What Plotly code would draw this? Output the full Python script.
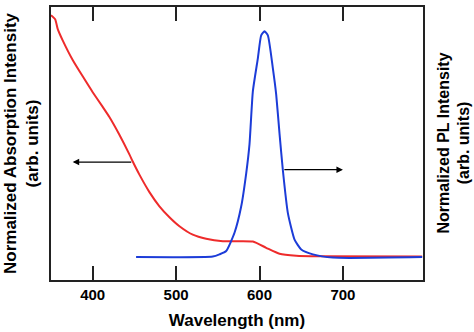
import plotly.graph_objects as go

# Absorption (red), left axis
abs_wl = [350, 355, 358, 364, 376, 388, 400, 412, 420, 432, 444, 448, 456, 468, 480, 492, 504, 520, 536, 556, 592, 608, 624, 644, 672, 795]
abs_val = [0.970, 0.955, 0.920, 0.878, 0.806, 0.746, 0.688, 0.634, 0.597, 0.532, 0.460, 0.434, 0.386, 0.322, 0.270, 0.230, 0.197, 0.166, 0.151, 0.142, 0.141, 0.118, 0.096, 0.089, 0.087, 0.086]

# Photoluminescence (blue), right axis
pl_wl = [452, 544, 552, 560, 570, 578, 584, 588, 592, 598, 602, 606, 610, 616, 620, 624, 628, 634, 642, 650, 664, 688, 795]
pl_val = [0.084, 0.086, 0.094, 0.106, 0.173, 0.269, 0.390, 0.498, 0.691, 0.812, 0.896, 0.911, 0.896, 0.775, 0.679, 0.535, 0.402, 0.245, 0.148, 0.112, 0.094, 0.082, 0.084]

x_ticks = [400, 500, 600, 700]

FONT = "Liberation Sans, Arial, sans-serif"

fig = go.Figure()
fig.add_trace(go.Scatter(x=abs_wl, y=abs_val, mode="lines",
                         line=dict(color="#ee2b2b", width=2, shape="spline", smoothing=0.5),
                         yaxis="y", showlegend=False))
fig.add_trace(go.Scatter(x=pl_wl, y=pl_val, mode="lines",
                         line=dict(color="#1c3cd8", width=2, shape="spline", smoothing=0.5),
                         yaxis="y2", showlegend=False))

arrow = dict(showarrow=True, arrowhead=2, arrowsize=1, arrowwidth=1.3, arrowcolor="black",
             axref="x", ayref="y", xref="x", yref="y", text="")
fig.add_annotation(x=376, y=0.432, ax=448, ay=0.432, **arrow)
fig.add_annotation(x=700, y=0.404, ax=628, ay=0.404, **arrow)

fig.add_annotation(text="Normalized Absorption Intensity<br>(arb. units)",
                   xref="paper", yref="paper", x=0, y=0.5, xanchor="right", yanchor="middle",
                   xshift=-7, textangle=-90, showarrow=False,
                   font=dict(family=FONT, size=17, color="black", weight="bold"))
fig.add_annotation(text="Normalized PL Intensity<br>(arb. units)",
                   xref="paper", yref="paper", x=1, y=0.5, xanchor="left", yanchor="middle",
                   xshift=9, textangle=-90, showarrow=False,
                   font=dict(family=FONT, size=16, color="black", weight="bold"))

fig.update_layout(
    width=474, height=332,
    margin=dict(l=51, r=51, t=5, b=51),
    paper_bgcolor="white", plot_bgcolor="white",
    font=dict(family=FONT, color="black"),
    xaxis=dict(range=[350, 796], tickvals=x_ticks, ticktext=[str(v) for v in x_ticks],
               ticks="inside", ticklen=14, tickwidth=1.5, tickcolor="#222",
               showline=True, linecolor="#222", linewidth=1.5, mirror="ticks",
               showgrid=False, zeroline=False,
               tickfont=dict(family=FONT, size=15, color="black", weight="bold"),
               title=dict(text="Wavelength (nm)", font=dict(family=FONT, size=17, weight="bold"),
                          standoff=12)),
    yaxis=dict(range=[0, 1.0], showticklabels=False, ticks="", showgrid=False, zeroline=False,
               showline=True, linecolor="#222", linewidth=1.5, mirror=True),
    yaxis2=dict(range=[0, 1.0], overlaying="y", side="right", showticklabels=False, ticks="",
                showgrid=False, zeroline=False, showline=False),
)

fig.write_html("out.html")
